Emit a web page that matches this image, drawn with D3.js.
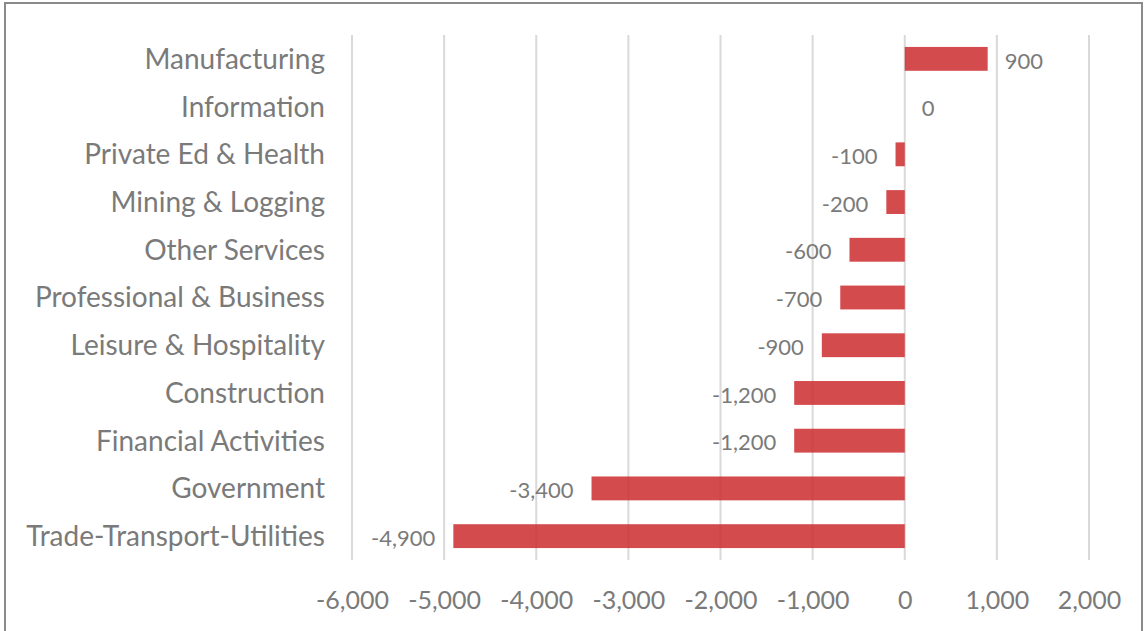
<!DOCTYPE html>
<html><head><meta charset="utf-8">
<script src="https://cdn.jsdelivr.net/npm/d3@7"></script>
<style>body{margin:0;background:#fff;} svg{display:block;}</style>
</head><body>
<svg id="c" width="1145" height="631"></svg>
<script>
const categories = ["Manufacturing","Information","Private Ed & Health","Mining & Logging","Other Services","Professional & Business","Leisure & Hospitality","Construction","Financial Activities","Government","Trade-Transport-Utilities"];
const values = [900,0,-100,-200,-600,-700,-900,-1200,-1200,-3400,-4900];
const tickValues = [-6000,-5000,-4000,-3000,-2000,-1000,0,1000,2000];

const svg = d3.select("#c");
const font = "Lato, 'Open Sans', sans-serif";
const gray = "#7a7a7a";

svg.append("rect").attr("x",5).attr("y",3).attr("width",1137).attr("height",640)
  .attr("fill","#fff").attr("stroke","#8a8a8a").attr("stroke-width",2);

const x = d3.scaleLinear().domain([-6000,2000]).range([352,1089]);
const y = d3.scaleBand().domain(categories).range([35,560]).paddingInner(0.5).paddingOuter(0.25);

svg.append("g").selectAll("line").data(tickValues).join("line")
  .attr("x1",d=>x(d)).attr("x2",d=>x(d)).attr("y1",35).attr("y2",560)
  .attr("stroke","#d9d9d9").attr("stroke-width",2);

svg.append("g").selectAll("rect").data(values).join("rect")
  .attr("x",(d)=>x(Math.min(0,d)))
  .attr("width",d=>Math.abs(x(d)-x(0)))
  .attr("y",(d,i)=>y(categories[i]))
  .attr("height",y.bandwidth())
  .attr("fill","#cc2b2e").attr("fill-opacity",0.85);

const fmt0 = d3.format(",");
const fmt = d => fmt0(d).replace("\u2212","-");

svg.append("g").selectAll("text").data(values).join("text")
  .attr("x",d=> d>=0 ? x(d)+17 : x(d)-18)
  .attr("y",(d,i)=>y(categories[i])+y.bandwidth()/2+2)
  .attr("dy","0.35em")
  .attr("text-anchor",d=> d>=0 ? "start":"end")
  .attr("font-family",font).attr("font-size",22).attr("fill",gray)
  .text(d=>fmt(d));

const yAxis = d3.axisLeft(y).tickSize(0).tickPadding(0);
const gy = svg.append("g").attr("transform","translate(325,1)").call(yAxis);
gy.select(".domain").remove();
gy.selectAll("text").attr("font-family",font).attr("font-size",28).attr("fill",gray);

const xAxis = d3.axisBottom(x).tickValues(tickValues).tickSize(0).tickPadding(0).tickFormat(fmt);
const gx = svg.append("g").attr("transform","translate(0,591)").call(xAxis);
gx.select(".domain").remove();
gx.selectAll("text").attr("font-family",font).attr("font-size",25).attr("fill",gray);
</script>
</body></html>
